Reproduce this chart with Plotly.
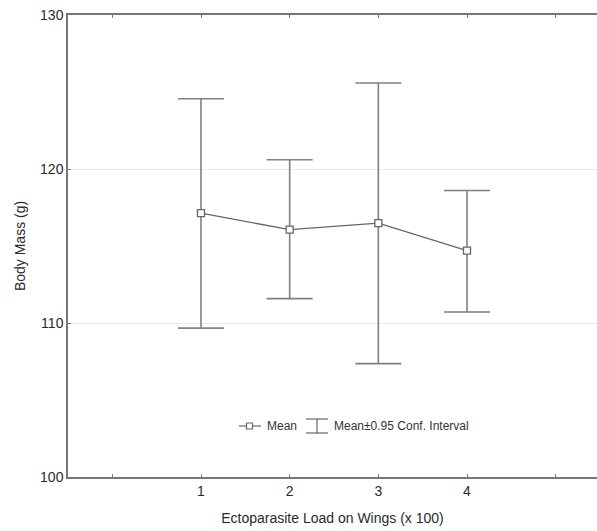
import plotly.graph_objects as go

loads = [1, 2, 3, 4]
mean_mass = [117.14, 116.06, 116.49, 114.70]
ci_upper = [124.56, 120.60, 125.58, 118.60]
ci_lower = [109.67, 111.58, 107.36, 110.71]
x_tickvals = [0, 1, 2, 3, 4, 5]
x_ticktext = ["", "1", "2", "3", "4", ""]
y_tickvals = [100, 110, 120, 130]

err_plus = [u - m for u, m in zip(ci_upper, mean_mass)]
err_minus = [m - l for m, l in zip(mean_mass, ci_lower)]

GRAY = "#808080"
FONT = "Liberation Sans, Arial, sans-serif"

fig = go.Figure()
fig.add_trace(go.Scatter(
    x=loads, y=mean_mass, mode="lines+markers",
    line=dict(color="#666666", width=1.3),
    marker=dict(symbol="square", size=7, color="white",
                line=dict(color="#666666", width=1.3)),
    error_y=dict(type="data", symmetric=False, array=err_plus,
                 arrayminus=err_minus, color=GRAY, thickness=1.6, width=23),
    showlegend=False,
))

fig.update_layout(
    width=597, height=531,
    margin=dict(l=68, r=0, t=15, b=54),
    paper_bgcolor="white", plot_bgcolor="white",
    font=dict(family=FONT, color="#2a2a2a", size=14),
    xaxis=dict(
        range=[-0.5, 5.466], tickvals=x_tickvals, ticktext=x_ticktext,
        ticks="inside", ticklen=3, tickcolor="#777777", tickwidth=1,
        showline=True, linecolor="#777777", linewidth=1.5, mirror="ticks",
        showgrid=False, zeroline=False, ticklabeloverflow="allow",
        title=dict(text="Ectoparasite Load on Wings (x 100)", font=dict(size=14), standoff=16),
        tickfont=dict(size=14),
    ),
    yaxis=dict(
        range=[100, 130], tickvals=y_tickvals,
        ticks="inside", ticklen=3, tickcolor="#777777", tickwidth=1,
        showline=True, linecolor="#777777", linewidth=1.5,
        showgrid=True, gridcolor="#e9e9e9", gridwidth=1, zeroline=False,
        ticklabeloverflow="allow",
        title=dict(text="Body Mass (g)", font=dict(size=14), standoff=11),
        tickfont=dict(size=14),
    ),
)

# Legend (drawn manually to include the confidence-interval glyph)
leg_y = 426
def py(y):
    return 1 - (y - 15) / 462
def px(x):
    return (x - 68) / 529

shapes = [
    dict(type="line", xref="paper", yref="paper", x0=px(239), x1=px(261), y0=py(leg_y), y1=py(leg_y),
         line=dict(color="#666666", width=1.2)),
    dict(type="rect", xref="paper", yref="paper", x0=px(246.5), x1=px(252.5), y0=py(leg_y - 3), y1=py(leg_y + 3),
         line=dict(color="#666666", width=1.2), fillcolor="white"),
    dict(type="line", xref="paper", yref="paper", x0=px(306), x1=px(328), y0=py(419), y1=py(419),
         line=dict(color="#666666", width=1.2)),
    dict(type="line", xref="paper", yref="paper", x0=px(306), x1=px(328), y0=py(433), y1=py(433),
         line=dict(color="#666666", width=1.2)),
    dict(type="line", xref="paper", yref="paper", x0=px(317), x1=px(317), y0=py(419), y1=py(433),
         line=dict(color="#666666", width=1.2)),
]
fig.update_layout(shapes=shapes)
fig.add_annotation(xref="paper", yref="paper", x=px(265), y=py(leg_y), text="Mean",
                   showarrow=False, xanchor="left", yanchor="middle", font=dict(size=12, color="#333333"))
fig.add_annotation(xref="paper", yref="paper", x=px(332), y=py(leg_y), text="Mean±0.95 Conf. Interval",
                   showarrow=False, xanchor="left", yanchor="middle", font=dict(size=12, color="#333333"))

fig.write_html(
    "out.html",
    config={"displayModeBar": False},
    post_script="document.body.style.margin='0';document.body.style.overflow='hidden';",
)
